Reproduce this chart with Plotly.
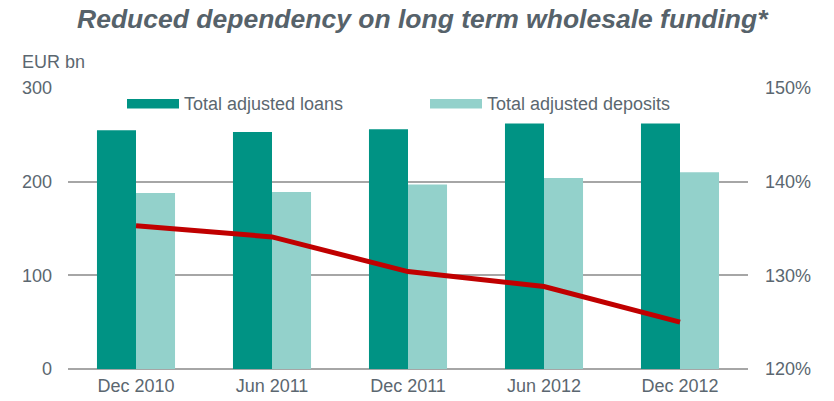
import plotly.graph_objects as go

categories = ["Dec 2010", "Jun 2011", "Dec 2011", "Jun 2012", "Dec 2012"]
loans = [255, 253, 256, 262, 262]
deposits = [188, 189, 197, 204, 210]
ratio = [135.3, 134.1, 130.4, 128.8, 125.0]
left_ticks = [0, 100, 200, 300]
right_ticks = [120, 130, 140, 150]

TXT = "#5b6770"
FONT = "Liberation Sans, Arial, sans-serif"
C_LOAN = "#009384"
C_DEP = "#93d1cb"
FS = 18

fig = go.Figure()
fig.add_trace(go.Bar(x=categories, y=loans, name="Total adjusted loans",
                     marker=dict(color=C_LOAN, line=dict(width=0)), yaxis="y"))
fig.add_trace(go.Bar(x=categories, y=deposits, name="Total adjusted deposits",
                     marker=dict(color=C_DEP, line=dict(width=0)), yaxis="y"))
fig.add_trace(go.Scatter(x=categories, y=ratio, mode="lines", yaxis="y2",
                         line=dict(color="#c00000", width=5), showlegend=False))

fig.update_layout(
    width=834, height=401,
    margin=dict(l=68, r=86, t=88, b=32),
    paper_bgcolor="white", plot_bgcolor="white",
    barmode="group", bargap=0.426, bargroupgap=0,
    showlegend=False,
    font=dict(family=FONT, color=TXT, size=FS),
    xaxis=dict(showgrid=False, tickfont=dict(size=FS, color=TXT), ticks="",
               showline=False, ticklabelstandoff=4, automargin=False),
    yaxis=dict(range=[0, 300], tickvals=left_ticks, showgrid=True,
               gridcolor="#a6a6a6", gridwidth=2, zeroline=True,
               zerolinecolor="#a6a6a6", zerolinewidth=2, automargin=False,
               tickfont=dict(size=FS, color=TXT), ticklabelstandoff=15),
    yaxis2=dict(range=[120, 150], tickvals=right_ticks,
                ticktext=[f"{v}%" for v in right_ticks], automargin=False,
                overlaying="y", side="right", showgrid=False, zeroline=False,
                tickfont=dict(size=FS, color=TXT), ticklabelstandoff=16),
    annotations=[
        dict(text="<b><i>Reduced dependency on long term wholesale funding*</i></b>",
             xref="paper", yref="paper", x=(423 - 68) / 680, y=(369 - 19) / 281,
             xanchor="center", yanchor="middle", showarrow=False,
             font=dict(size=26.5, color="#56626a", family=FONT)),
        dict(text="EUR bn", xref="paper", yref="paper", x=(20 - 68) / 680,
             y=(369 - 62.5) / 281, xanchor="left", yanchor="middle",
             showarrow=False, font=dict(size=FS, color=TXT)),
        dict(text="Total adjusted loans", xref="paper", yref="paper",
             x=(182 - 68) / 680, y=(369 - 103.5) / 281, xanchor="left",
             yanchor="middle", showarrow=False, font=dict(size=FS, color=TXT)),
        dict(text="Total adjusted deposits", xref="paper", yref="paper",
             x=(485 - 68) / 680, y=(369 - 103.5) / 281, xanchor="left",
             yanchor="middle", showarrow=False, font=dict(size=FS, color=TXT)),
    ],
    shapes=[
        dict(type="rect", xref="paper", yref="paper",
             x0=(127 - 68) / 680, x1=(179 - 68) / 680,
             y0=(369 - 108.5) / 281, y1=(369 - 99) / 281,
             fillcolor=C_LOAN, line=dict(width=0)),
        dict(type="rect", xref="paper", yref="paper",
             x0=(430 - 68) / 680, x1=(482 - 68) / 680,
             y0=(369 - 108.5) / 281, y1=(369 - 99) / 281,
             fillcolor=C_DEP, line=dict(width=0)),
    ],
)

fig.write_html("out.html")
